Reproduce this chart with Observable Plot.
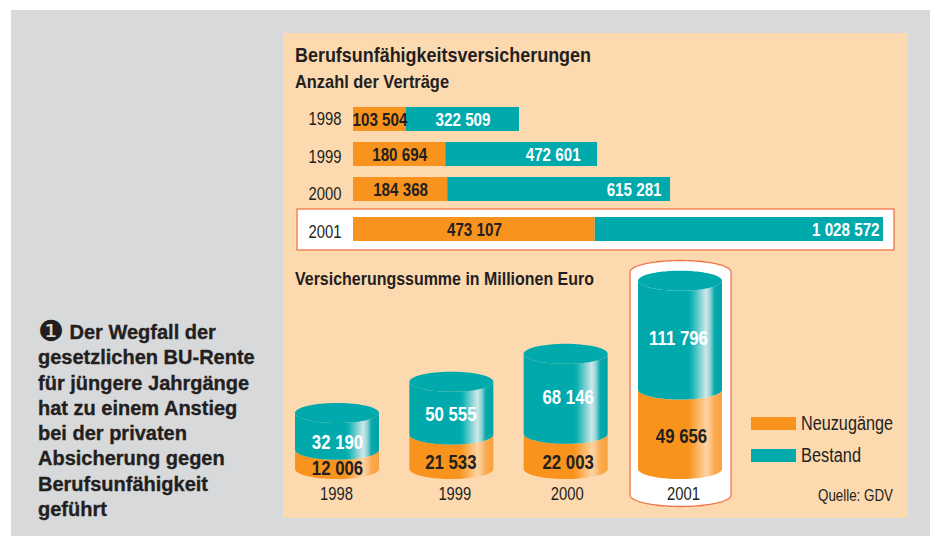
<!DOCTYPE html>
<html lang="de">
<head>
<meta charset="utf-8">
<script src="https://cdn.jsdelivr.net/npm/d3@7"></script>
<script src="https://cdn.jsdelivr.net/npm/@observablehq/plot@0.6"></script>
<style>
  html, body { margin: 0; padding: 0; background: #fff; }
  #page { position: relative; width: 934px; height: 537px; overflow: hidden; font-family: "Liberation Sans", sans-serif; color: #231f20; }
  .abs { position: absolute; white-space: nowrap; }
  #grey { left: 11px; top: 10px; width: 919px; height: 526px; background: #d8d9db; }
  #peach { left: 283px; top: 33px; width: 625px; height: 485px; background: #fdd9b0; }
  .head { font-weight: 700; left: 295px; transform-origin: 0 50%; }
  .fit { transform-origin: 0 50%; }
  #note { left: 38px; top: 320px; font-weight: 700; font-size: 20px; line-height: 25.3px; -webkit-text-stroke: .35px #231f20; }
  #note .bullet { font-family: "DejaVu Sans", sans-serif; font-size: 29px; line-height: 20px; font-weight: 400; -webkit-text-stroke: 0; vertical-align: -2px; }
  .swatch { left: 751px; width: 45px; height: 13px; }
  .plotbox { position: absolute; }
  .plotbox svg { display: block; overflow: visible; }
</style>
</head>
<body>
<div id="page">
  <div class="abs" id="grey"></div>
  <div class="abs" id="peach"></div>
  <div class="abs head" data-w="296" style="top:43px;font-size:21px">Berufsunfähigkeitsversicherungen</div>
  <div class="abs head" data-w="154" style="top:71px;font-size:19px">Anzahl der Verträge</div>
  <div class="abs head" data-w="299" style="top:268px;font-size:19px">Versicherungssumme in Millionen Euro</div>
  <div class="abs" id="note"><span class="bullet">❶</span> Der Wegfall der<br>gesetzlichen BU-Rente<br>für jüngere Jahrgänge<br>hat zu einem Anstieg<br>bei der privaten<br>Absicherung gegen<br>Berufsunfähigkeit<br>geführt</div>
  <div class="plotbox" id="bars" style="left:283px;top:90px"></div>
  <div class="plotbox" id="cyl" style="left:283px;top:250px"></div>
  <div class="abs swatch" style="top:417px;background:#f8941d"></div>
  <div class="abs fit" data-w="92" style="left:801px;top:412px;font-size:20px">Neuzugänge</div>
  <div class="abs swatch" style="top:449px;background:#00a9ac"></div>
  <div class="abs fit" data-w="60" style="left:801px;top:444px;font-size:20px">Bestand</div>
  <div class="abs fit" data-w="75" style="left:818px;top:487px;font-size:16px">Quelle: GDV</div>
</div>
<script>
// ---- Data ----
const years = ["1998", "1999", "2000", "2001"];
const series = ["Neuzugänge", "Bestand"];

// Anzahl der Verträge: printed values
const contractsNew = [103504, 180694, 184368, 473107];
const contractsStock = [322509, 472601, 615281, 1028572];
// The original's teal segments are not to scale with their printed values;
// these are their lengths as drawn, on the orange segments' scale.
const contractsStockDrawn = [221300, 296900, 436000, 564000];

// Versicherungssumme: printed values
const sumNew = [12006, 21533, 22003, 49656];
const sumStock = [32190, 50555, 68146, 111796];
// Same for the teal cylinder parts: heights as drawn, on the orange parts' scale.
const sumStockDrawn = [23000, 33000, 50000, 68000];

const orange = "#f8941d", teal = "#00a9ac", ink = "#231f20", accent = "#f0764a";
const sans = '"Liberation Sans", sans-serif';
const fmt = d3.formatLocale({decimal: ",", thousands: " ", grouping: [3], currency: ["", "€"]}).format(",");

// No condensed face is installed: squeeze text horizontally to the original's condensed look.
function condense(svg, sx) {
  svg.querySelectorAll("text").forEach(t => {
    t.setAttribute("transform", (t.getAttribute("transform") || "") + ` scale(${sx},1)`);
  });
  return svg;
}
function fitHtml() {
  document.querySelectorAll("[data-w]").forEach(el => {
    el.style.transform = `scaleX(${+el.dataset.w / el.getBoundingClientRect().width})`;
  });
}

// ---- Horizontal stacked bars ----
const barW = 530, barDomain = 1037000, pxX = barW / barDomain;
const rowShift = [0, 0, 0, 5];       // the 2001 row sits lower
const yearNudge = [0, 3, 5, 3];      // year labels sit slightly under their bars
const stockLabelInset = [29, 17, 9, 4];  // px from the bar end to the label end

const barMarks = [
  Plot.barX([{year: "2001"}], {
    x1: -56 / pxX, x2: 541 / pxX, y: "year", dy: 5, insetTop: -8, insetBottom: -9,
    fill: "white", stroke: accent, strokeWidth: 1.3
  })
];
years.forEach((year, i) => {
  const dy = rowShift[i];
  const rows = [
    {year, series: series[0], drawn: contractsNew[i]},
    {year, series: series[1], drawn: contractsStockDrawn[i]}
  ];
  const n = contractsNew[i], s = contractsStockDrawn[i];
  barMarks.push(
    Plot.barX(rows, {x: "drawn", y: "year", fill: "series", dy}),
    Plot.text([year], {
      x: () => 0, y: d => d, text: d => d, textAnchor: "end", dx: -12, dy: dy + yearNudge[i],
      fontFamily: sans, fontSize: 18.5, fill: ink
    }),
    Plot.text([contractsNew[i]], {
      x: () => n / 2, y: () => year, text: d => fmt(d), dy,
      fontFamily: sans, fontWeight: 700, fontSize: 19, fill: ink
    }),
    Plot.text([contractsStock[i]], {
      x: () => n + s, y: () => year, text: d => fmt(d), textAnchor: "end", dx: -stockLabelInset[i], dy,
      fontFamily: sans, fontWeight: 700, fontSize: 19, fill: "white"
    })
  );
});

document.getElementById("bars").append(condense(Plot.plot({
  width: 625, height: 165, margin: 0, style: {background: "transparent"},
  x: {domain: [0, barDomain], range: [70, 70 + barW], axis: null},
  y: {type: "band", domain: years, range: [5.8, 157.8], padding: 0.318, axis: null},
  color: {type: "categorical", domain: series, range: [orange, teal]},
  marks: barMarks
}), 0.8));

// ---- Cylinders ----
const pxY = 0.0016, baseY = 219;              // px per unit, baseline inside the svg
const yDomainMax = baseY / pxY;
const halfWidth = 42 / 114.33;                // half a cylinder, in steps of the x scale
const ry = 10 / pxY;                          // ellipse radius, in units of the y scale
const tealNudge = [10, 6, 3, 3], orangeNudge = [8, 10, 10, 6];
const tealDx = [0, -1, 2, -2], orangeDx = [0, -1, 2, 1], yearDx = [-1, 3, 1, 3];

const steps = d3.range(0, 61).map(k => Math.cos(Math.PI * (1 - k / 60)));
const rim = u => Math.sqrt(Math.max(0, 1 - u * u));
const body = (i, low, high) => steps.map(u => ({x: i + u * halfWidth, y1: low - ry * rim(u), y2: high - ry * rim(u)}));
const cap = (i, at) => steps.map(u => ({x: i + u * halfWidth, y1: at - ry * rim(u), y2: at + ry * rim(u)}));
const areaOf = (pts, fill, extra = {}) => Plot.area(pts, {x1: "x", y1: "y1", y2: "y2", fill, curve: "linear", ...extra});

function gradient(id, stops) {
  return `<linearGradient id="${id}" x1="0" x2="1" y1="0" y2="0">` +
    stops.map(([o, c]) => `<stop offset="${o}" stop-color="${c}"/>`).join("") + `</linearGradient>`;
}
const defsMark = () => d3.create("svg:defs").html(
  gradient("tealShine", [[0, "#00a8aa"], [.6, "#00aaac"], [.64, "#12b3b5"], [.81, "#cfe8e8"], [.86, "#8fd4d5"], [.91, "#08a8ac"], [1, "#00a3a8"]]) +
  gradient("orangeShine", [[0, "#f8941d"], [.6, "#f8941d"], [.64, "#f99e30"], [.81, "#fdd3a3"], [.86, "#fcc488"], [.91, "#faab50"], [1, "#f9a03c"]])
).node();

// white capsule round the 2001 cylinder
const capHalf = 50.5 / 114.33, capRy = 11.5 / pxY;
const capSteps = steps.map(u => ({
  x: 3 + 0.005 + u * capHalf,
  y1: -26 / pxY - capRy * rim(u),
  y2: (baseY - 22) / pxY + capRy * rim(u)
}));

const cylMarks = [defsMark, areaOf(capSteps, "white", {stroke: accent, strokeWidth: 1.3})];
years.forEach((year, i) => {
  const mid = sumNew[i], top = sumNew[i] + sumStockDrawn[i];
  cylMarks.push(
    areaOf(body(i, 0, mid), "url(#orangeShine)"),
    areaOf(body(i, mid, top), "url(#tealShine)"),
    areaOf(cap(i, top), teal),
    Plot.text([sumStock[i]], {
      x: () => i, y: () => (mid + top) / 2 - tealNudge[i] / pxY, text: d => fmt(d), dx: tealDx[i],
      fontFamily: sans, fontWeight: 700, fontSize: 21, fill: "white"
    }),
    Plot.text([sumNew[i]], {
      x: () => i, y: () => mid / 2 - orangeNudge[i] / pxY, text: d => fmt(d), dx: orangeDx[i],
      fontFamily: sans, fontWeight: 700, fontSize: 21, fill: ink
    }),
    Plot.text([year], {
      x: () => i, y: () => -25 / pxY, text: d => d, dx: yearDx[i],
      fontFamily: sans, fontSize: 18.5, fill: ink
    })
  );
});

document.getElementById("cyl").append(condense(Plot.plot({
  width: 625, height: 268, margin: 0, style: {background: "transparent"},
  x: {type: "linear", domain: [0, 3], range: [54, 397], axis: null},
  y: {type: "linear", domain: [0, yDomainMax], range: [baseY, 0], axis: null},
  marks: cylMarks
}), 0.8));

fitHtml();
</script>
</body>
</html>
